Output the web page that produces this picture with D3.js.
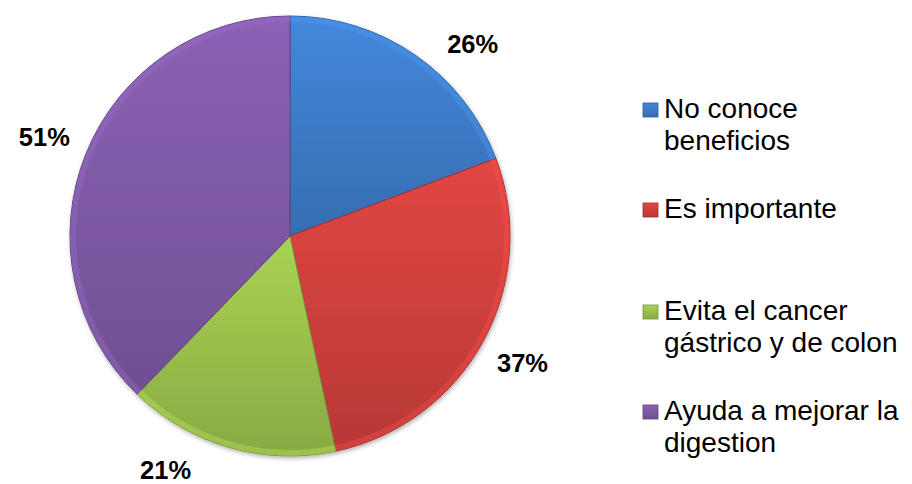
<!DOCTYPE html>
<html>
  <head>
    <meta charset="utf-8">
    <title>Beneficios</title>
    <script src="https://cdn.jsdelivr.net/npm/d3@7"></script>
    <style>
      body { margin: 0; background: #fff; }
      text { font-family: "Liberation Sans", Arial, sans-serif; }
    </style>
  </head>
  <body>
    <div id="chart"></div>
    <script>
    var categories = ['No conoce beneficios', 'Es importante', 'Evita el cancer gástrico y de colon', 'Ayuda a mejorar la digestion'];
    var legendLines = [['No conoce', 'beneficios'], ['Es importante'], ['Evita el cancer', 'gástrico y de colon'], ['Ayuda a mejorar la', 'digestion']];
    var values = [26, 37, 21, 51];
    var labels = ['26%', '37%', '21%', '51%'];
    var colors = ['#3d7cc9', '#cf403d', '#9bc14c', '#7f5aa6'];

    (function(){
        var W = 912, H = 484;
        var cx = 290, cy = 236, R = 220;
        var LABEL_R = 265;

        var svg = d3.select('#chart').append('svg')
            .attr('width', W).attr('height', H);

        var defs = svg.append('defs');
        colors.forEach(function(c, i){
            var g = defs.append('linearGradient')
                .attr('id', 'g' + i)
                .attr('x1', 0).attr('y1', 0).attr('x2', 0).attr('y2', 1);
            g.append('stop').attr('offset', '0%').attr('stop-color', d3.color(c).brighter(0.25));
            g.append('stop').attr('offset', '100%').attr('stop-color', d3.color(c).darker(0.35));
        });
        var f = defs.append('filter').attr('id', 'shadow')
            .attr('x', '-10%').attr('y', '-10%').attr('width', '120%').attr('height', '120%');
        f.append('feDropShadow').attr('dx', 1).attr('dy', 2).attr('stdDeviation', 2)
            .attr('flood-color', '#000').attr('flood-opacity', 0.3);

        var pie = d3.pie().sort(null).value(function(d){ return d; });
        var arcs = pie(values);
        var arc = d3.arc().innerRadius(0).outerRadius(R);
        var bevel = d3.arc().innerRadius(R - 6).outerRadius(R);

        var g = svg.append('g').attr('transform', 'translate(' + cx + ',' + cy + ')');

        g.append('g').attr('filter', 'url(#shadow)')
          .selectAll('path.slice')
          .data(arcs)
          .enter()
          .append('path')
          .attr('class', 'slice')
          .attr('d', arc)
          .attr('fill', function(d, i){ return 'url(#g' + i + ')'; })
          .attr('stroke', function(d, i){ return d3.color(colors[i]).darker(0.8); })
          .attr('stroke-width', 1);

        // light rim to mimic the bevel
        g.selectAll('path.rim')
          .data(arcs)
          .enter()
          .append('path')
          .attr('class', 'rim')
          .attr('d', bevel)
          .attr('fill', function(d, i){ return d3.color(colors[i]).brighter(0.6); })
          .attr('opacity', 0.35);

        // labels on a circle, clamped into the drawing area
        var yMin = 44 - cy, yMax = 470 - cy;
        g.selectAll('text.lbl')
          .data(arcs)
          .enter()
          .append('text')
          .attr('class', 'lbl')
          .attr('text-anchor', 'middle')
          .attr('dy', '0.36em')
          .attr('font-size', 25.5)
          .attr('font-weight', 'bold')
          .attr('fill', '#000')
          .attr('transform', function(d){
              var a = (d.startAngle + d.endAngle) / 2;
              var x = Math.sin(a) * LABEL_R;
              var y = -Math.cos(a) * LABEL_R;
              if(y < yMin || y > yMax){
                  y = y < yMin ? yMin : yMax;
                  var dx = Math.sqrt(LABEL_R * LABEL_R - y * y);
                  x = x < 0 ? -dx : dx;
              }
              return 'translate(' + x + ',' + y + ')';
          })
          .text(function(d, i){ return labels[i]; });

        // legend
        var tops = [103, 203, 305, 405];
        var leg = svg.append('g');
        var item = leg.selectAll('g')
          .data(categories)
          .enter()
          .append('g')
          .attr('transform', function(d, i){ return 'translate(643,' + tops[i] + ')'; });

        item.append('rect')
          .attr('width', 15).attr('height', 14)
          .attr('fill', function(d, i){ return 'url(#g' + i + ')'; })
          .attr('stroke', function(d, i){ return d3.color(colors[i]).darker(0.8); })
          .attr('stroke-width', 0.8);

        item.append('text')
          .attr('x', 21)
          .attr('y', 15)
          .attr('font-size', 28)
          .attr('fill', '#000')
          .selectAll('tspan')
          .data(function(d, i){ return legendLines[i]; })
          .enter()
          .append('tspan')
          .attr('x', 21)
          .attr('dy', function(d, j){ return j === 0 ? 0 : 32; })
          .text(function(d){ return d; });
    })();
    </script>
  </body>
</html>
